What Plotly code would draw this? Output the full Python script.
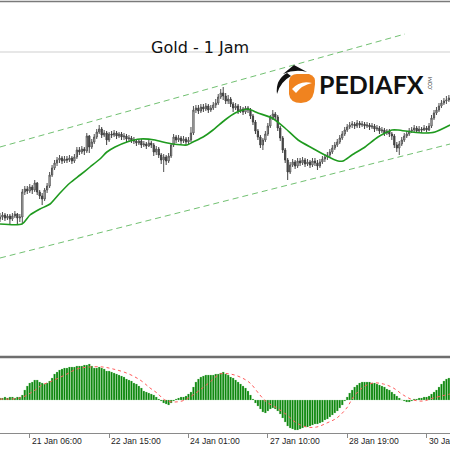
import plotly.graph_objects as go

# ---------------- data ----------------
bar_index = list(range(182))

open_ = [
    1581,1583,1585,1582,1584,1581,1584,1586,1582,1583,
    1608,1611,1609,1613,1610,1617,1608,1604,1601,1610,
    1614,1625,1632,1637,1640,1642,1639,1641,1640,1642,
    1639,1643,1650,1648,1651,1649,1664,1653,1658,1663,
    1668,1671,1665,1667,1660,1666,1665,1667,1664,1666,
    1663,1664,1661,1662,1660,1659,1657,1659,1655,1656,
    1654,1657,1655,1648,1651,1645,1640,1643,1639,1644,
    1655,1663,1660,1662,1659,1661,1658,1660,1667,1690,
    1692,1689,1693,1691,1694,1690,1692,1695,1697,1703,
    1707,1704,1699,1701,1696,1692,1694,1689,1691,1688,
    1692,1690,1684,1678,1669,1663,1655,1660,1666,1674,
    1682,1686,1683,1672,1662,1650,1640,1628,1635,1638,
    1634,1639,1637,1640,1636,1638,1635,1639,1637,1634,
    1638,1641,1643,1645,1648,1652,1655,1658,1662,1666,
    1670,1673,1675,1676,1674,1677,1675,1676,1674,1675,
    1673,1674,1671,1672,1669,1670,1667,1669,1666,1664,
    1655,1652,1656,1660,1664,1666,1669,1670,1672,1669,
    1671,1670,1672,1670,1674,1682,1687,1690,1694,1697,
    1699,1700,
]
high = [
    1587,1588,1587,1586,1586,1587,1589,1587,1586,1611,
    1614,1614,1616,1615,1620,1618,1610,1607,1612,1617,
    1628,1635,1640,1643,1645,1644,1644,1644,1645,1644,
    1646,1653,1653,1654,1653,1667,1665,1661,1666,1671,
    1675,1673,1670,1669,1668,1669,1670,1669,1668,1668,
    1667,1666,1665,1664,1663,1661,1661,1661,1659,1658,
    1660,1659,1657,1654,1653,1647,1646,1645,1647,1657,
    1666,1665,1665,1664,1664,1663,1663,1673,1694,1695,
    1695,1696,1696,1697,1696,1695,1698,1701,1706,1711,
    1713,1707,1705,1703,1698,1697,1696,1694,1693,1694,
    1694,1692,1686,1680,1671,1665,1662,1669,1677,1685,
    1690,1688,1685,1674,1664,1652,1642,1638,1641,1640,
    1642,1642,1643,1642,1641,1640,1642,1642,1640,1641,
    1644,1646,1648,1651,1655,1658,1661,1665,1669,1673,
    1676,1678,1679,1678,1680,1679,1679,1678,1678,1677,
    1677,1676,1675,1674,1673,1672,1671,1671,1668,1666,
    1658,1659,1663,1667,1669,1672,1673,1675,1674,1674,
    1673,1675,1674,1677,1685,1690,1693,1697,1700,1702,
    1704,1705,
]
low = [
    1578,1580,1579,1580,1576,1579,1582,1575,1578,1576,
    1605,1606,1607,1606,1608,1605,1601,1595,1599,1607,
    1612,1623,1630,1634,1637,1636,1637,1637,1638,1636,
    1637,1641,1645,1646,1645,1647,1647,1651,1656,1661,
    1666,1662,1663,1655,1658,1662,1663,1661,1662,1660,
    1660,1658,1659,1657,1656,1654,1655,1652,1653,1651,
    1653,1652,1644,1645,1642,1636,1628,1635,1637,1642,
    1653,1657,1658,1656,1657,1655,1656,1658,1665,1687,
    1686,1687,1688,1689,1687,1688,1690,1692,1695,1701,
    1700,1696,1696,1693,1688,1690,1686,1687,1685,1686,
    1687,1681,1675,1666,1660,1652,1650,1658,1664,1672,
    1680,1680,1669,1659,1647,1637,1620,1626,1633,1631,
    1632,1634,1635,1633,1634,1632,1633,1634,1630,1632,
    1636,1638,1640,1643,1646,1650,1653,1656,1660,1664,
    1668,1671,1672,1671,1672,1672,1673,1671,1672,1670,
    1671,1668,1669,1666,1667,1664,1665,1663,1660,1652,
    1648,1645,1654,1658,1662,1664,1667,1668,1667,1668,
    1667,1669,1668,1669,1672,1680,1685,1688,1692,1695,
    1696,1698,
]
close = [
    1583,1585,1582,1584,1581,1584,1586,1582,1583,1608,
    1611,1609,1613,1610,1617,1608,1604,1601,1610,1614,
    1625,1632,1637,1640,1642,1639,1641,1640,1642,1639,
    1643,1650,1648,1651,1649,1664,1653,1658,1663,1668,
    1671,1665,1667,1660,1666,1665,1667,1664,1666,1663,
    1664,1661,1662,1660,1659,1657,1659,1655,1656,1654,
    1657,1655,1648,1651,1645,1640,1643,1639,1644,1655,
    1663,1660,1662,1659,1661,1658,1660,1667,1690,1692,
    1689,1693,1691,1694,1690,1692,1695,1697,1703,1707,
    1704,1699,1701,1696,1692,1694,1689,1691,1688,1692,
    1690,1684,1678,1669,1663,1655,1660,1666,1674,1682,
    1686,1683,1672,1662,1650,1640,1628,1635,1638,1634,
    1639,1637,1640,1636,1638,1635,1639,1637,1634,1638,
    1641,1643,1645,1648,1652,1655,1658,1662,1666,1670,
    1673,1675,1676,1674,1677,1675,1676,1674,1675,1673,
    1674,1671,1672,1669,1670,1667,1669,1666,1664,1655,
    1652,1656,1660,1664,1666,1669,1670,1672,1669,1671,
    1670,1672,1670,1674,1682,1687,1690,1694,1697,1699,
    1700,1702,
]

# moving average (green line), read at sample points
ma_x = [0, 8.9, 12.1, 16.1, 20.2, 24.2, 28.2, 32.3, 36.3, 40.3, 43.1, 46.4, 51.2,
        56.5, 62.5, 65.7, 69.8, 75.4, 77.8, 81.9, 85.9, 90.7, 94.8, 100, 104,
        109.7, 114.9, 120.2, 125.8, 131, 136.3, 138.3, 141.9, 147.2, 152.4,
        158.1, 160.5, 166.1, 171.4, 175.4, 181.5]
ma_y = [1576, 1576, 1585, 1591, 1596, 1607, 1617, 1625, 1633, 1641, 1648, 1653, 1658,
        1661, 1660, 1658, 1656, 1655, 1658, 1663, 1670, 1680, 1687, 1691, 1687,
        1682, 1672, 1660, 1652, 1645, 1639, 1639, 1645, 1653, 1663,
        1670, 1670, 1668, 1667, 1668, 1675]

# channel (dashed trend lines)
chan_up_x = [0, 163.3]
chan_up_y = [1653, 1766]
chan_lo_x = [0, 181.5]
chan_lo_y = [1542, 1656]
hline_level = 1748

# MACD histogram
macd = [
    0.2,0.2,0.3,0.2,0.3,0.3,0.2,0.3,0.3,0.5,
    1.0,1.4,1.7,1.8,2.0,2.0,1.8,1.7,1.6,1.7,
    1.9,2.2,2.6,2.8,3.0,3.1,3.2,3.2,3.3,3.3,
    3.3,3.4,3.4,3.4,3.5,3.5,3.6,3.4,3.2,3.2,
    3.3,3.2,3.1,2.9,2.9,2.8,2.7,2.6,2.5,2.4,
    2.3,2.1,2.0,1.9,1.7,1.6,1.4,1.2,0.9,0.8,
    0.7,0.6,0.5,0.3,0.1,-0.1,-0.3,-0.4,-0.5,-0.3,
    -0.1,0.1,0.2,0.3,0.3,0.4,0.6,0.8,1.3,1.8,
    2.1,2.3,2.4,2.5,2.5,2.5,2.5,2.6,2.6,2.7,
    2.8,2.6,2.5,2.3,2.2,2.0,1.8,1.6,1.4,1.2,
    0.9,0.5,0.1,-0.3,-0.6,-0.9,-1.2,-1.3,-1.1,-0.9,
    -0.8,-0.9,-1.1,-1.4,-1.8,-2.2,-2.6,-2.8,-2.9,-3.0,
    -3.0,-2.9,-2.8,-2.7,-2.7,-2.6,-2.5,-2.4,-2.4,-2.3,
    -2.2,-2.0,-1.9,-1.7,-1.5,-1.3,-1.1,-0.8,-0.5,-0.1,
    0.3,0.7,1.0,1.3,1.5,1.7,1.8,1.8,1.8,1.8,
    1.7,1.7,1.6,1.5,1.4,1.3,1.1,1.0,0.8,0.6,
    0.4,0.2,0.0,-0.1,-0.2,-0.2,-0.1,0.1,0.1,0.2,
    0.2,0.3,0.3,0.4,0.6,0.8,1.0,1.3,1.6,1.9,
    2.1,2.2,
]
signal_x = [0, 8, 13, 17, 21, 27, 31, 36, 41.5, 45.6, 51, 56.5, 60.5, 63.3, 66.5,
            69.9, 73.4, 75.3, 77.8, 80.6, 84.7, 88.7, 92.7, 96.8, 100.8, 104.8,
            107.5, 111.7, 115.7, 119.6, 123.7, 127.7, 131.8, 135.8, 139.8, 142.5,
            146.5, 150.5, 154.6, 158.6, 162.6, 166.7, 170.7, 174.7, 181.5]
signal_y = [0.1, 0.2, 0.8, 1.5, 1.9, 2.6, 3.1, 3.3, 3.3, 3.1, 2.7, 2.0, 1.2, 0.7, 0.0,
            -0.2, -0.1, 0.1, 0.5, 1.0, 1.8, 2.6, 2.6, 2.3, 1.7, 0.5,
            -0.2, -0.8, -1.5, -2.3, -2.7, -2.7, -2.3, -1.8, -0.8, 0.3,
            1.3, 1.7, 1.6, 1.2, 0.5, 0.0, -0.1, 0.2, 0.6]

tick_pos = [12, 44, 76, 108, 140, 172]
tick_text = ["21 Jan 06:00", "22 Jan 15:00", "24 Jan 01:00",
             "27 Jan 10:00", "28 Jan 19:00", "30 Jan 04:00"]

title_text = "Gold - 1 Jam"
logo_text = "PEDIAFX"

# ---------------- figure ----------------
W = H = 450
XR = [0, 181.45]


def px(x):
    return x / W


def py(y):
    return 1 - y / H


def path(points):
    out = []
    for p in points:
        cmd = p[0]
        coords = p[1:]
        s = cmd
        for k in range(0, len(coords), 2):
            s += " %.4f,%.4f" % (px(coords[k]), py(coords[k + 1]))
        out.append(s)
    return " ".join(out) + " Z"


fig = go.Figure()

fig.add_trace(go.Candlestick(
    x=bar_index, open=open_, high=high, low=low, close=close,
    increasing=dict(line=dict(color="#505050", width=1), fillcolor="#ffffff"),
    decreasing=dict(line=dict(color="#404040", width=1), fillcolor="#404040"),
    whiskerwidth=0, showlegend=False, hoverinfo="skip",
    xaxis="x", yaxis="y",
))
fig.add_trace(go.Scatter(x=ma_x, y=ma_y, mode="lines",
                         line=dict(color="#1f9a1f", width=1.6, shape="spline", smoothing=0.6),
                         showlegend=False, hoverinfo="skip", xaxis="x", yaxis="y"))
for cx, cy in [(chan_up_x, chan_up_y), (chan_lo_x, chan_lo_y)]:
    fig.add_trace(go.Scatter(x=cx, y=cy, mode="lines",
                             line=dict(color="#72c172", width=1, dash="6px,4px"),
                             showlegend=False, hoverinfo="skip", xaxis="x", yaxis="y"))

fig.add_trace(go.Bar(x=bar_index, y=macd,
                     marker=dict(color="#078307", line=dict(color="#a6d9a6", width=0.3)),
                     showlegend=False, hoverinfo="skip", xaxis="x2", yaxis="y2"))
fig.add_trace(go.Scatter(x=signal_x, y=signal_y, mode="lines",
                         line=dict(color="#ff5a5a", width=1, dash="dot", shape="spline"),
                         showlegend=False, hoverinfo="skip", xaxis="x2", yaxis="y2"))

fig.update_layout(
    width=W, height=H, margin=dict(l=0, r=0, t=0, b=0, autoexpand=False),
    paper_bgcolor="white", plot_bgcolor="white",
    bargap=0.2,
    xaxis=dict(domain=[0, 1], range=XR, anchor="y", showticklabels=False, showgrid=False,
               zeroline=False, showline=False, ticks="", rangeslider=dict(visible=False)),
    yaxis=dict(domain=[py(356), py(3)], range=[1444, 1797], showticklabels=False, showgrid=False,
               zeroline=False, showline=False, ticks=""),
    xaxis2=dict(domain=[0, 1], range=XR, anchor="y2", matches="x", showgrid=False, zeroline=False,
                showline=True, linecolor="#8a8a8a", linewidth=1,
                tickmode="array", tickvals=tick_pos, ticktext=[""] * len(tick_pos),
                ticks="outside", ticklen=4, tickcolor="#8a8a8a", tickwidth=1,
                showticklabels=True, automargin=False,
                rangeslider=dict(visible=False)),
    yaxis2=dict(domain=[py(433), py(358)], range=[-3.3, 4.2], showticklabels=False, showgrid=False,
                zeroline=False, showline=False, ticks=""),
    font=dict(family="Liberation Sans, Arial, sans-serif"),
)

# time labels, left-aligned at their tick marks (as in MetaTrader)
for tp, tt in zip(tick_pos, tick_text):
    fig.add_annotation(text=tt, xref="x2", yref="paper", x=tp, y=py(441),
                       xanchor="left", yanchor="middle", showarrow=False, xshift=0,
                       font=dict(family="Liberation Sans, Arial, sans-serif", size=8.6, color="#222222"))

shapes = [
    dict(type="line", xref="paper", yref="paper", x0=0, x1=1, y0=py(1.5), y1=py(1.5),
         line=dict(color="#7a7a7a", width=1.5)),
    dict(type="line", xref="paper", yref="y", x0=0, x1=1, y0=hline_level, y1=hline_level,
         line=dict(color="#cfcfcf", width=1), layer="below"),
    dict(type="line", xref="paper", yref="paper", x0=0, x1=1, y0=py(357), y1=py(357),
         line=dict(color="#6e6e6e", width=2.5)),
    dict(type="path", xref="paper", yref="paper", fillcolor="#f0831f", line=dict(width=0),
         path=path([("M", 289, 81), ("Q", 290, 74, 297, 74), ("L", 309, 74), ("Q", 316, 76, 315, 84),
                    ("L", 314, 92), ("Q", 312, 103, 301, 103), ("Q", 290, 103, 289, 94)])),
    dict(type="path", xref="paper", yref="paper", fillcolor="#ffffff", line=dict(width=0),
         path=path([("M", 292, 89), ("Q", 300, 80, 312, 83), ("Q", 302, 85, 296, 93)])),
    dict(type="path", xref="paper", yref="paper", fillcolor="#111111", line=dict(width=0),
         path=path([("M", 283, 74), ("L", 294, 65), ("L", 307, 72), ("Q", 295, 69, 283, 74)])),
    dict(type="path", xref="paper", yref="paper", fillcolor="#111111", line=dict(width=0),
         path=path([("M", 287, 73), ("Q", 275, 80, 277, 94), ("Q", 280, 82, 291, 76)])),
]
fig.update_layout(shapes=shapes)

fig.add_annotation(text=title_text, xref="paper", yref="paper", x=px(200), y=py(47),
                   xanchor="center", yanchor="middle", showarrow=False,
                   font=dict(family="DejaVu Sans, sans-serif", size=16, color="#111111"))
fig.add_annotation(text="<b>" + logo_text + "</b>", xref="paper", yref="paper", x=px(317), y=py(84),
                   xanchor="left", yanchor="middle", showarrow=False,
                   font=dict(family="Lato, sans-serif", size=25, color="#111111"))
fig.add_annotation(text=".COM", xref="paper", yref="paper", x=px(430), y=py(84),
                   xanchor="center", yanchor="middle", showarrow=False, textangle=-90,
                   font=dict(family="Lato, sans-serif", size=5, color="#333333"))

post = (
    "document.documentElement.style.overflow='hidden';"
    "document.body.style.margin='0';"
    "document.body.style.overflow='hidden';"
    "var gd=document.getElementById('{plot_id}');"
    "gd.style.overflow='hidden';"
)
fig.write_html("out.html", config={"displayModeBar": False}, post_script=post)
